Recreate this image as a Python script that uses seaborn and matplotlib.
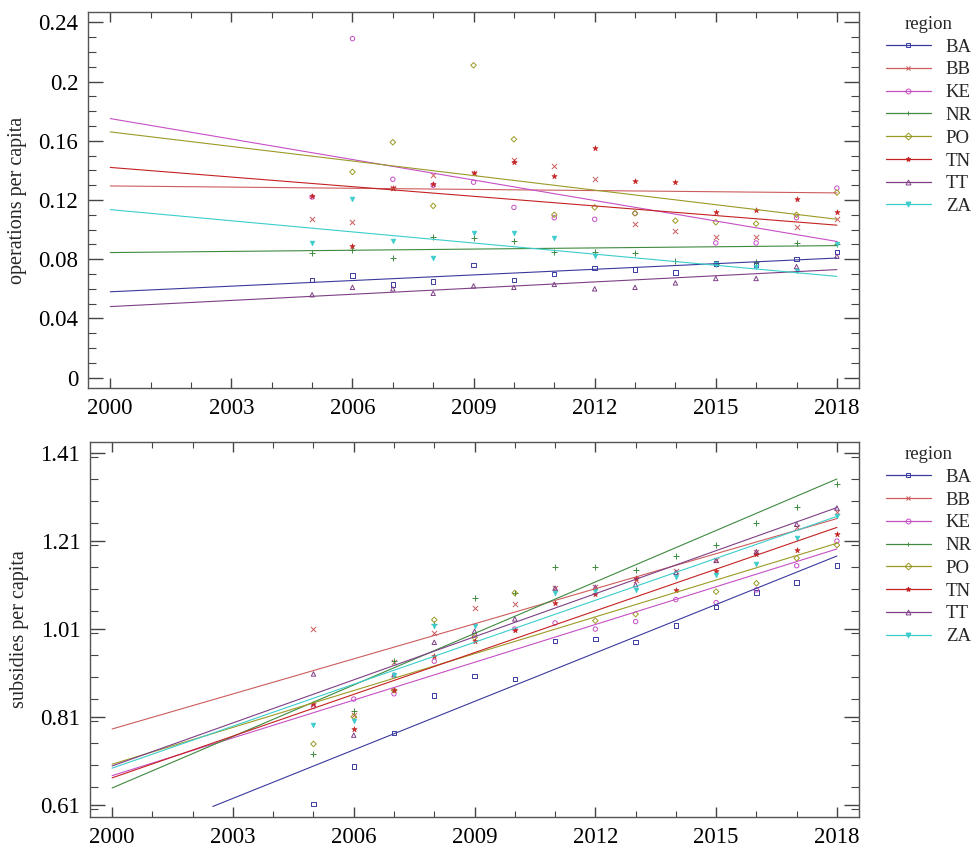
import numpy as np
import pandas as pd
import seaborn as sns
import matplotlib
matplotlib.use('Agg')
from matplotlib import pyplot as plt
from matplotlib.lines import Line2D
from matplotlib.ticker import MultipleLocator

# data
years = list(range(2005, 2019))
regions = ['BA', 'BB', 'KE', 'NR', 'PO', 'TN', 'TT', 'ZA']
nan = np.nan

ops = {
    'BA': [0.066, 0.069, 0.063, 0.065, 0.076, 0.066, 0.070, 0.074, 0.073, 0.071, 0.077, 0.076, 0.080, 0.085],
    'BB': [0.107, 0.105, 0.128, 0.137, 0.138, 0.147, 0.143, 0.134, 0.104, 0.099, 0.095, 0.095, 0.102, 0.107],
    'KE': [0.122, 0.229, 0.134, 0.130, 0.132, 0.115, 0.108, 0.107, 0.111, nan, 0.091, 0.091, 0.108, 0.128],
    'NR': [0.084, 0.086, 0.081, 0.095, 0.094, 0.092, 0.085, 0.085, 0.084, 0.079, 0.077, 0.078, 0.091, 0.090],
    'PO': [nan, 0.139, 0.159, 0.116, 0.211, 0.161, 0.110, 0.115, 0.111, 0.106, 0.105, 0.104, 0.110, 0.125],
    'TN': [0.123, 0.089, 0.128, 0.131, 0.138, 0.146, 0.136, 0.155, 0.133, 0.132, 0.112, 0.113, 0.121, 0.112],
    'TT': [0.056, 0.061, 0.060, 0.057, 0.062, 0.061, 0.063, 0.060, 0.061, 0.064, 0.067, 0.067, 0.075, 0.082],
    'ZA': [0.091, 0.121, 0.092, 0.081, 0.098, 0.098, 0.094, 0.082, nan, nan, 0.077, 0.075, 0.072, 0.090],
}
subs = {
    'BA': [0.612, 0.697, 0.773, 0.858, 0.903, 0.895, 0.982, 0.987, 0.979, 1.017, 1.059, 1.092, 1.115, 1.153],
    'BB': [1.009, 0.813, 0.935, 1.000, 1.056, 1.066, 1.102, 1.104, 1.120, 1.140, 1.165, 1.185, 1.241, 1.276],
    'KE': [0.833, 0.850, 0.862, 0.936, 0.995, 1.009, 1.023, 1.009, 1.026, 1.076, 1.069, 1.098, 1.153, 1.209],
    'NR': [0.725, 0.823, 0.936, 1.021, 1.079, 1.091, 1.151, 1.151, 1.144, 1.174, 1.200, 1.250, 1.287, 1.339],
    'PO': [0.748, 0.810, 0.870, 1.030, 0.990, 1.091, nan, 1.028, 1.043, nan, 1.094, 1.113, 1.170, 1.200],
    'TN': [0.839, 0.782, 0.870, 0.947, 0.983, 1.007, 1.069, 1.088, 1.126, 1.097, 1.140, 1.180, 1.189, 1.225],
    'TT': [0.907, 0.768, 0.905, 0.979, 1.004, 1.032, 1.102, 1.104, 1.110, 1.138, 1.165, 1.185, 1.247, 1.284],
    'ZA': [0.792, 0.801, 0.905, 1.015, 1.015, nan, 1.092, 1.095, 1.097, 1.128, 1.132, 1.157, 1.216, 1.265],
}

# fitted trend lines (start year, start value, value in 2018)
ops_trend_from = [2000] * 8
ops_trend_start = [0.058, 0.1295, 0.175, 0.0845, 0.166, 0.142, 0.048, 0.1135]
ops_trend_end = [0.0808, 0.1248, 0.092, 0.0892, 0.107, 0.103, 0.073, 0.0684]
sub_trend_from = [2002.5, 2000, 2000, 2000, 2000, 2000, 2000, 2000]
sub_trend_start = [0.606, 0.782, 0.676, 0.648, 0.702, 0.671, 0.698, 0.693]
sub_trend_end = [1.175, 1.260, 1.191, 1.350, 1.204, 1.240, 1.285, 1.265]

colors = {'BA': '#3a3a9e', 'BB': '#cc5c5c', 'KE': '#c64fc6', 'NR': '#3f8a3f',
          'PO': '#9c9a26', 'TN': '#c42222', 'TT': '#7e3f86', 'ZA': '#3ccccc'}
markers = {'BA': 's', 'BB': 'x', 'KE': 'o', 'NR': '+', 'PO': 'D', 'TN': '*', 'TT': '^', 'ZA': 'v'}
open_m = {'BA', 'KE', 'PO', 'TT'}


def long_df(d):
    rows = []
    for r in regions:
        for y, v in zip(years, d[r]):
            rows.append((y, r, v))
    return pd.DataFrame(rows, columns=['year', 'region', 'value']).dropna()


def trend_df(x0, start, end):
    rows = []
    for r, a, s, e in zip(regions, x0, start, end):
        rows.append((a, r, s))
        rows.append((2018, r, e))
    return pd.DataFrame(rows, columns=['year', 'region', 'value'])


sns.set_style('ticks')
plt.rcParams['font.family'] = ['Liberation Serif', 'DejaVu Serif']

fig = plt.figure(figsize=(9.76, 8.5), dpi=100)
ax1 = fig.add_axes([0.0902, 0.5435, 0.790, 0.4424])
ax2 = fig.add_axes([0.0922, 0.0388, 0.788, 0.4412])


def draw(ax, d, x0, start, end, ylabel, ylim, minor):
    df = long_df(d)
    tr = trend_df(x0, start, end)
    sns.lineplot(data=tr, x='year', y='value', hue='region', palette=colors,
                 lw=0.8, legend=False, ax=ax, estimator=None, sort=True)
    for r in regions:
        sub = df[df.region == r]
        if r in open_m:
            ms = 8 if markers[r] == 'D' else 10
            sns.scatterplot(data=sub, x='year', y='value', marker=markers[r], s=ms,
                            facecolors='none', edgecolors=colors[r], linewidth=0.7, ax=ax)
        elif markers[r] in ('x', '+'):
            sns.scatterplot(data=sub, x='year', y='value', marker=markers[r], s=14,
                            color=colors[r], linewidth=0.7, ax=ax)
        else:
            ms = 16 if markers[r] == '*' else 12
            sns.scatterplot(data=sub, x='year', y='value', marker=markers[r], s=ms,
                            color=colors[r], edgecolor=colors[r], linewidth=0.4, ax=ax)
    ax.set_xlim(1999.45, 2018.55)
    ax.set_ylim(*ylim)
    ax.set_xticks(range(2000, 2019, 3))
    ax.xaxis.set_minor_locator(MultipleLocator(1))
    ax.yaxis.set_minor_locator(MultipleLocator(minor))
    ax.set_xlabel('')
    ax.set_ylabel(ylabel, fontsize=14.5, labelpad=8)
    ax.tick_params(which='both', direction='in', top=True, right=True, colors='#444444',
                   labelcolor='black', labelsize=16.5)
    ax.tick_params(axis='y', which='major', length=11, width=1, pad=7)
    ax.tick_params(axis='y', which='minor', length=6, width=0.8)
    ax.tick_params(axis='x', which='major', length=7, width=1, pad=7)
    ax.tick_params(axis='x', which='minor', length=4, width=0.8)
    for s in ax.spines.values():
        s.set_color('#555555')
        s.set_linewidth(1)
    handles = []
    for r in regions:
        mfc = 'none' if r in open_m else colors[r]
        handles.append(Line2D([], [], color=colors[r], lw=0.9, marker=markers[r],
                              markersize=3.5, mfc=mfc, mec=colors[r], mew=0.7))
    return handles


h = draw(ax1, ops, ops_trend_from, ops_trend_start, ops_trend_end,
         'operations per capita', (-0.007, 0.247), 0.01)
ax1.set_yticks([0, 0.04, 0.08, 0.12, 0.16, 0.2, 0.24])
ax1.set_yticklabels(['0', '0.04', '0.08', '0.12', '0.16', '0.2', '0.24'])
fig.legend(h, regions, title='region', loc='upper left', bbox_to_anchor=(0.9, 0.99),
           frameon=False, fontsize=13.5, title_fontsize=13.5, handlelength=2.4,
           handletextpad=0.8, labelspacing=0.3, borderaxespad=0)

h = draw(ax2, subs, sub_trend_from, sub_trend_start, sub_trend_end,
         'subsidies per capita', (0.582, 1.434), 0.05)
ax2.set_yticks([0.61, 0.81, 1.01, 1.21, 1.41])
ax2.set_yticklabels(['0.61', '0.81', '1.01', '1.21', '1.41'])
fig.legend(h, regions, title='region', loc='upper left', bbox_to_anchor=(0.9, 0.484),
           frameon=False, fontsize=13.5, title_fontsize=13.5, handlelength=2.4,
           handletextpad=0.8, labelspacing=0.3, borderaxespad=0)

fig.savefig('out.png', dpi=100)
